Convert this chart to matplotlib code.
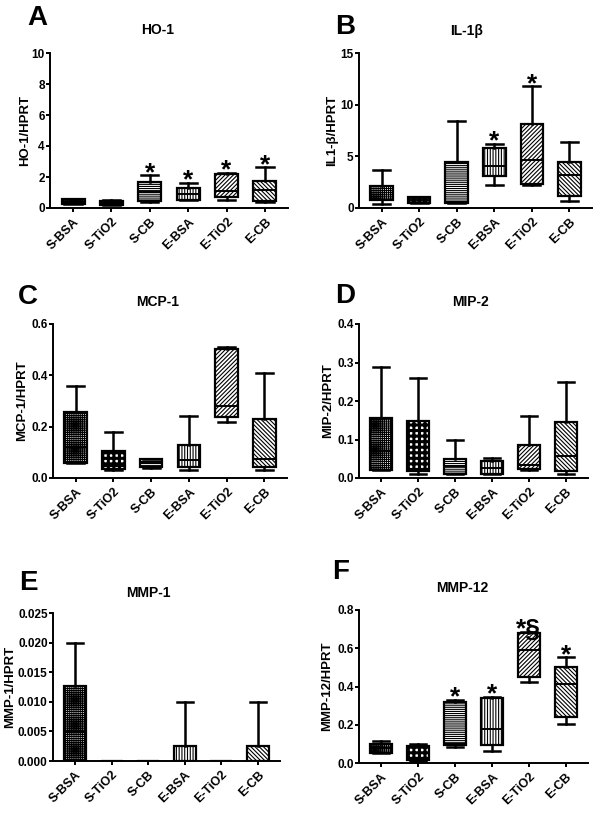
import numpy as np
import matplotlib.pyplot as plt
from matplotlib.ticker import FormatStrFormatter

plt.rcParams['font.family'] = ['Liberation Sans', 'DejaVu Sans']
plt.rcParams['font.weight'] = 'bold'
plt.rcParams['hatch.linewidth'] = 0.8

groups = ['S-BSA', 'S-TiO2', 'S-CB', 'E-BSA', 'E-TiO2', 'E-CB']
hatches = ['++++++++', '+++', '--------', '||||||', '////////', '\\' * 8]

# five-number summaries: min, q1, median, q3, max
ho1_lo = [0.25, 0.2, 0.38, 0.5, 0.52, 0.4]
ho1_q1 = [0.28, 0.22, 0.47, 0.52, 0.73, 0.47]
ho1_med = [0.4, 0.3, 1.05, 0.9, 1.12, 1.16]
ho1_q3 = [0.55, 0.45, 1.7, 1.29, 2.19, 1.76]
ho1_hi = [0.6, 0.5, 2.13, 1.63, 2.28, 2.63]
ho1_marks = ['', '', '*', '*', '*', '*']

il1_lo = [0.42, 0.45, 0.45, 2.26, 2.26, 0.65]
il1_q1 = [0.74, 0.48, 0.48, 3.06, 2.32, 1.15]
il1_med = [0.8, 0.8, 0.6, 4.1, 4.6, 3.15]
il1_q3 = [2.1, 1.03, 4.45, 5.8, 8.16, 4.45]
il1_hi = [3.7, 1.1, 8.4, 6.2, 11.8, 6.4]
il1_marks = ['', '', '', '*', '*', '']

mcp1_lo = [0.06, 0.031, 0.04, 0.031, 0.217, 0.031]
mcp1_q1 = [0.06, 0.034, 0.042, 0.042, 0.239, 0.042]
mcp1_med = [0.122, 0.047, 0.06, 0.07, 0.28, 0.075]
mcp1_q3 = [0.256, 0.106, 0.073, 0.129, 0.503, 0.23]
mcp1_hi = [0.36, 0.18, 0.073, 0.242, 0.51, 0.41]

mip2_lo = [0.02, 0.011, 0.01, 0.01, 0.02, 0.01]
mip2_q1 = [0.02, 0.017, 0.01, 0.01, 0.024, 0.017]
mip2_med = [0.071, 0.023, 0.03, 0.025, 0.035, 0.056]
mip2_q3 = [0.157, 0.149, 0.049, 0.044, 0.086, 0.145]
mip2_hi = [0.289, 0.261, 0.1, 0.051, 0.162, 0.25]

mmp1_lo = [0, 0, 0, 0, 0, 0]
mmp1_q1 = [0, 0, 0, 0, 0, 0]
mmp1_med = [0.0049, 0, 0, 0, 0, 0]
mmp1_q3 = [0.0126, 0, 0, 0.0025, 0, 0.0025]
mmp1_hi = [0.02, 0, 0, 0.01, 0, 0.01]

mmp12_lo = [0.05, 0.012, 0.082, 0.063, 0.425, 0.204]
mmp12_q1 = [0.054, 0.016, 0.094, 0.094, 0.451, 0.238]
mmp12_med = [0.077, 0.052, 0.1, 0.18, 0.59, 0.413]
mmp12_q3 = [0.099, 0.091, 0.32, 0.338, 0.678, 0.503]
mmp12_hi = [0.115, 0.098, 0.33, 0.347, 0.687, 0.553]
mmp12_marks = ['', '', '*', '*', '*§', '*']

ho1_ticks = [0, 2, 4, 6, 8, 10]
il1_ticks = [0, 5, 10, 15]
mcp1_ticks = [0.0, 0.2, 0.4, 0.6]
mip2_ticks = [0.0, 0.1, 0.2, 0.3, 0.4]
mmp1_ticks = [0.0, 0.005, 0.010, 0.015, 0.020, 0.025]
mmp12_ticks = [0.0, 0.2, 0.4, 0.6, 0.8]

W, H = 600, 818
fig = plt.figure(figsize=(6, 8.18), dpi=100)


def px_rect(l, r, t, b):
    return [l / W, 1 - b / H, (r - l) / W, (b - t) / H]


def panel(rect, lo, q1, med, q3, hi, ticks, fmt, ylabel, ylab_x,
          title, title_xy, letter, letter_xy, marks=None):
    ax = fig.add_axes(px_rect(*rect))
    stats = []
    for i, g in enumerate(groups):
        stats.append(dict(label=g, whislo=lo[i], q1=q1[i], med=med[i],
                          q3=q3[i], whishi=hi[i]))
    bp = ax.bxp(stats, positions=range(len(groups)), widths=0.6,
                capwidths=0.45, patch_artist=True, showfliers=False,
                boxprops=dict(facecolor='white', edgecolor='black', linewidth=1.6),
                whiskerprops=dict(color='black', linewidth=1.8),
                capprops=dict(color='black', linewidth=1.8),
                medianprops=dict(color='black', linewidth=1.4))
    for b, h in zip(bp['boxes'], hatches):
        b.set_hatch(h)
        if h == '+++':
            try:
                b.set_hatch_linewidth(2.2)
            except AttributeError:
                pass
    if marks:
        for i, m in enumerate(marks):
            if m:
                ax.annotate(m, (i, hi[i]), xytext=(0, -3.5),
                            textcoords='offset points', ha='center',
                            va='baseline', fontsize=19, fontweight='bold')
    ax.set_xlim(-0.6, 5.6)
    ax.set_ylim(ticks[0], ticks[-1])
    ax.set_yticks(ticks)
    ax.yaxis.set_major_formatter(FormatStrFormatter(fmt))
    ax.set_xticks(range(len(groups)))
    ax.set_xticklabels(groups, rotation=45, ha='right', rotation_mode='anchor',
                       fontsize=9, fontweight='bold')
    for s in ['top', 'right']:
        ax.spines[s].set_visible(False)
    for s in ['left', 'bottom']:
        ax.spines[s].set_linewidth(1.4)
    ax.tick_params(direction='out', length=3, width=1.4, labelsize=8.5)
    ax.tick_params(axis='x', labelsize=9, pad=2.5)
    ax.tick_params(axis='y', pad=0.8)
    ax.set_ylabel(ylabel, fontsize=9.5, fontweight='bold')
    ax.yaxis.set_label_coords(ylab_x / W, 1 - (rect[2] + rect[3]) / 2 / H,
                              transform=fig.transFigure)
    fig.text(title_xy[0] / W, 1 - title_xy[1] / H, title, ha='center',
             va='center', fontsize=10, fontweight='bold')
    fig.text(letter_xy[0] / W, 1 - letter_xy[1] / H, letter, ha='center',
             va='center', fontsize=20, fontweight='bold')
    return ax


panel((50, 288, 53, 208), ho1_lo, ho1_q1, ho1_med, ho1_q3, ho1_hi,
      ho1_ticks, '%d', 'HO-1/HPRT', 31, 'HO-1', (158, 30), 'A', (37, 18),
      ho1_marks)
panel((359, 592, 53, 208), il1_lo, il1_q1, il1_med, il1_q3, il1_hi,
      il1_ticks, '%d', 'IL1-β/HPRT', 338, 'IL-1β', (467, 31), 'B', (345, 27),
      il1_marks)
panel((53, 287, 324, 478), mcp1_lo, mcp1_q1, mcp1_med, mcp1_q3, mcp1_hi,
      mcp1_ticks, '%.1f', 'MCP-1/HPRT', 28, 'MCP-1', (158, 302), 'C', (28, 297))
panel((359, 588, 324, 478), mip2_lo, mip2_q1, mip2_med, mip2_q3, mip2_hi,
      mip2_ticks, '%.1f', 'MIP-2/HPRT', 334, 'MIP-2', (470, 302), 'D', (345, 296))
panel((53, 280, 613, 761), mmp1_lo, mmp1_q1, mmp1_med, mmp1_q3, mmp1_hi,
      mmp1_ticks, '%.3f', 'MMP-1/HPRT', 16, 'MMP-1', (148, 593), 'E', (28, 583))
panel((359, 588, 610, 763), mmp12_lo, mmp12_q1, mmp12_med, mmp12_q3, mmp12_hi,
      mmp12_ticks, '%.1f', 'MMP-12/HPRT', 333, 'MMP-12', (462, 588), 'F', (341, 572),
      mmp12_marks)

fig.savefig('out.png', dpi=100)
